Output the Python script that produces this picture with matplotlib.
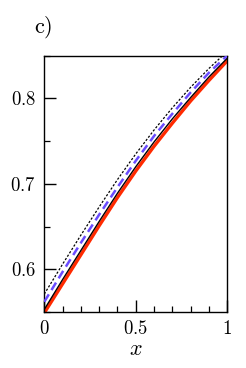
import matplotlib
matplotlib.use("Agg")
import matplotlib.pyplot as plt
from matplotlib.ticker import MultipleLocator, FixedLocator, FixedFormatter

plt.rcParams['mathtext.fontset'] = 'cm'
plt.rcParams['font.family'] = 'serif'

# values
x = [0.0, 0.1, 0.2, 0.3, 0.4, 0.5, 0.6, 0.7, 0.8, 0.9, 1.0]
y_red = [0.549, 0.583, 0.617, 0.651, 0.684, 0.715, 0.744, 0.771, 0.797, 0.821, 0.844]
y_solid = [0.553, 0.588, 0.622, 0.656, 0.689, 0.720, 0.749, 0.776, 0.801, 0.825, 0.847]
y_dashed = [0.562, 0.597, 0.631, 0.664, 0.696, 0.727, 0.756, 0.782, 0.807, 0.830, 0.850]
y_dotted = [0.571, 0.606, 0.640, 0.673, 0.705, 0.735, 0.763, 0.789, 0.813, 0.835, 0.855]

xticks = [0, 0.5, 1]
xticklabels = ['$0$', '$0.5$', '$1$']
yticks = [0.6, 0.7, 0.8]
yticklabels = ['$0.6$', '$0.7$', '$0.8$']

fig = plt.figure(figsize=(2.46, 3.68), dpi=100)
ax = fig.add_axes([0.180, 0.152, 0.744, 0.697])

ax.plot(x, y_red, color='#ff2a00', lw=2.4, zorder=2)
ax.plot(x, y_solid, color='black', lw=1.0, zorder=3)
ax.plot(x, y_dashed, color='#6a4cff', lw=1.8, dashes=(3.5, 2.0), zorder=4)
ax.plot(x, y_dotted, color='black', lw=0.9, dashes=(1.8, 1.4), zorder=5)

ax.set_xlim(0, 1)
ax.set_ylim(0.55, 0.85)

ax.xaxis.set_major_locator(FixedLocator(xticks))
ax.xaxis.set_major_formatter(FixedFormatter(xticklabels))
ax.xaxis.set_minor_locator(MultipleLocator(0.1))
ax.yaxis.set_major_locator(FixedLocator(yticks))
ax.yaxis.set_major_formatter(FixedFormatter(yticklabels))
ax.yaxis.set_minor_locator(MultipleLocator(0.05))

ax.tick_params(which='both', direction='in', top=False, right=False, labelsize=13.5)
ax.tick_params(which='major', length=8.5, width=1.0, pad=6)
ax.tick_params(which='minor', length=4.3, width=0.9)
for s in ax.spines.values():
    s.set_linewidth(1.0)

ax.set_xlabel('$x$', fontsize=16, labelpad=0)
fig.text(0.175, 0.925, r'$\mathrm{c)}$', fontsize=16, ha='center', va='center')

fig.savefig('out.png', dpi=100)
